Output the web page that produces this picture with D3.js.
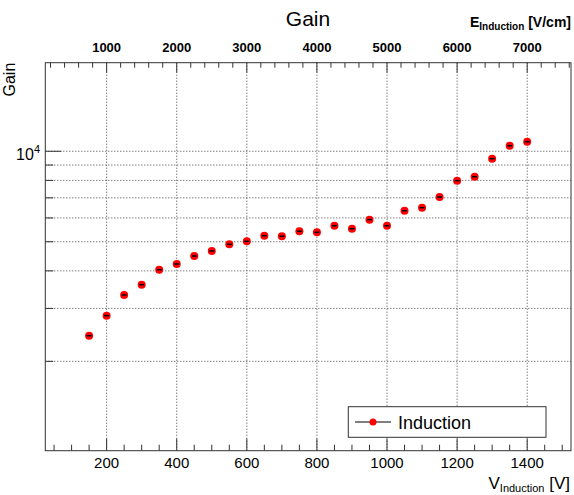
<!DOCTYPE html>
<html>
<head>
<meta charset="utf-8">
<script src="https://cdn.jsdelivr.net/npm/d3@7"></script>
<style>
  body { margin: 0; background: #fff; }
  svg { display: block; font-family: "Liberation Sans", Arial, Helvetica, sans-serif; }
</style>
</head>
<body>
<div id="chart"></div>
<script>
// induction voltage [V] and measured gain
var voltages = [150, 200, 250, 300, 350, 400, 450, 500, 550, 600, 650, 700, 750,
  800, 850, 900, 950, 1000, 1050, 1100, 1150, 1200, 1250, 1300, 1350, 1400];
var gains = [2434, 2838, 3324, 3598, 4036, 4217, 4483, 4659, 4904, 5017, 5237, 5215, 5417,
  5375, 5654, 5526, 5922, 5654, 6343, 6491, 7046, 7985, 8232, 9449, 10438, 10764];

var bottomTicks = [200, 400, 600, 800, 1000, 1200, 1400];
var topTicks = [1000, 2000, 3000, 4000, 5000, 6000, 7000];
var gainMinorTicks = [2000, 3000, 4000, 5000, 6000, 7000, 8000, 9000];
var gainMajorTicks = [10000];
var legendLabel = "Induction";

var width = 574, height = 495;
var frameL = 45.3, frameR = 571, frameT = 62.7, frameB = 450.7;

var svg = d3.select("#chart").append("svg")
  .attr("width", width)
  .attr("height", height);

var x = d3.scaleLinear().domain([25, 1525]).range([frameL, frameR]);
// field = voltage / 0.2 cm
var xTop = d3.scaleLinear().domain([125, 7625]).range([frameL, frameR]);
var y = d3.scaleLog().domain([1008.5, 19713]).range([frameB, frameT]);

var gridColor = "#444";

// vertical grid
svg.append("g").selectAll("line")
  .data(bottomTicks)
  .enter().append("line")
  .attr("x1", d => x(d)).attr("x2", d => x(d))
  .attr("y1", frameT).attr("y2", frameB)
  .attr("stroke", gridColor)
  .attr("stroke-width", 1)
  .attr("stroke-dasharray", "1,2");

// horizontal grid
svg.append("g").selectAll("line")
  .data(gainMinorTicks.concat(gainMajorTicks))
  .enter().append("line")
  .attr("x1", frameL).attr("x2", frameR)
  .attr("y1", d => y(d)).attr("y2", d => y(d))
  .attr("stroke", gridColor)
  .attr("stroke-width", 1)
  .attr("stroke-dasharray", "1,2");

var axisColor = "#333";

// bottom axis (ticks inside)
var minorV = d3.range(50, 1525, 50).filter(d => d % 200 !== 0);
var bAxis = svg.append("g").attr("stroke", axisColor).attr("stroke-width", 1);
bAxis.selectAll(".mn").data(minorV).enter().append("line")
  .attr("x1", d => x(d)).attr("x2", d => x(d))
  .attr("y1", frameB).attr("y2", frameB - 6);
bAxis.selectAll(".mj").data(bottomTicks).enter().append("line")
  .attr("x1", d => x(d)).attr("x2", d => x(d))
  .attr("y1", frameB).attr("y2", frameB - 12);

svg.append("g").selectAll("text")
  .data(bottomTicks)
  .enter().append("text")
  .attr("x", d => x(d))
  .attr("y", 467.5)
  .attr("text-anchor", "middle")
  .attr("font-size", 15)
  .text(d => d);

// top axis (field)
var minorE = d3.range(200, 7625, 200).filter(d => d % 1000 !== 0);
var tAxis = svg.append("g").attr("stroke", axisColor).attr("stroke-width", 1);
tAxis.selectAll(".mn").data(minorE).enter().append("line")
  .attr("x1", d => xTop(d)).attr("x2", d => xTop(d))
  .attr("y1", frameT).attr("y2", frameT + 5);
tAxis.selectAll(".mj").data(topTicks).enter().append("line")
  .attr("x1", d => xTop(d)).attr("x2", d => xTop(d))
  .attr("y1", frameT).attr("y2", frameT + 10);

svg.append("g").selectAll("text")
  .data(topTicks)
  .enter().append("text")
  .attr("x", d => xTop(d))
  .attr("y", 52)
  .attr("text-anchor", "middle")
  .attr("font-size", 13)
  .attr("font-weight", "bold")
  .text(d => d);

// left axis
var lAxis = svg.append("g").attr("stroke", axisColor).attr("stroke-width", 1);
lAxis.selectAll(".mn").data(gainMinorTicks).enter().append("line")
  .attr("x1", frameL).attr("x2", frameL + 8)
  .attr("y1", d => y(d)).attr("y2", d => y(d));
lAxis.selectAll(".mj").data(gainMajorTicks).enter().append("line")
  .attr("x1", frameL).attr("x2", frameL + 16)
  .attr("y1", d => y(d)).attr("y2", d => y(d));

var yl = svg.append("g").selectAll("text")
  .data(gainMajorTicks)
  .enter().append("text")
  .attr("x", 40)
  .attr("y", d => y(d) + 9)
  .attr("text-anchor", "end")
  .attr("font-size", 16);
yl.append("tspan").text(d => "10");
yl.append("tspan").attr("font-size", 11).attr("dy", -7).text(d => Math.round(Math.log10(d)));

// frame
svg.append("rect")
  .attr("x", frameL).attr("y", frameT)
  .attr("width", frameR - frameL).attr("height", frameB - frameT)
  .attr("fill", "none")
  .attr("stroke", axisColor)
  .attr("stroke-width", 1);

// titles
svg.append("text")
  .attr("x", 308).attr("y", 26)
  .attr("text-anchor", "middle")
  .attr("font-size", 21)
  .text("Gain");

var xt = svg.append("text")
  .attr("x", 570).attr("y", 489)
  .attr("text-anchor", "end")
  .attr("font-size", 17);
xt.append("tspan").text("V");
xt.append("tspan").attr("font-size", 11).attr("dy", 3).text("Induction");
xt.append("tspan").attr("dy", -3).text(" [V]");

var et = svg.append("text")
  .attr("x", 571).attr("y", 27)
  .attr("text-anchor", "end")
  .attr("font-size", 14)
  .attr("font-weight", "bold");
et.append("tspan").text("E");
et.append("tspan").attr("font-size", 10).attr("dy", 3).text("Induction");
et.append("tspan").attr("dy", -3).text(" [V/cm]");

svg.append("text")
  .attr("transform", "translate(15," + frameT + ") rotate(-90)")
  .attr("text-anchor", "end")
  .attr("font-size", 16)
  .text("Gain");

// points
var pts = svg.append("g").selectAll("g")
  .data(voltages.map((v, i) => ({ v: v, g: gains[i] })))
  .enter().append("g")
  .attr("transform", d => "translate(" + x(d.v) + "," + y(d.g) + ")");
pts.append("circle").attr("r", 4).attr("fill", "#f00");
pts.append("line")
  .attr("x1", -2.5).attr("x2", 2.5).attr("y1", 0).attr("y2", 0)
  .attr("stroke", "#000").attr("stroke-width", 1.5);

// legend
var lg = svg.append("g");
lg.append("rect")
  .attr("x", 348.3).attr("y", 406.7)
  .attr("width", 197.7).attr("height", 30.6)
  .attr("fill", "#fff")
  .attr("stroke", "#333")
  .attr("stroke-width", 1);
lg.append("line")
  .attr("x1", 355).attr("x2", 391).attr("y1", 422).attr("y2", 422)
  .attr("stroke", "#000").attr("stroke-width", 1);
lg.append("circle").attr("cx", 373).attr("cy", 422).attr("r", 3.5).attr("fill", "#f00");
lg.append("text")
  .attr("x", 398).attr("y", 428.5)
  .attr("font-size", 18)
  .text(legendLabel);
</script>
</body>
</html>
